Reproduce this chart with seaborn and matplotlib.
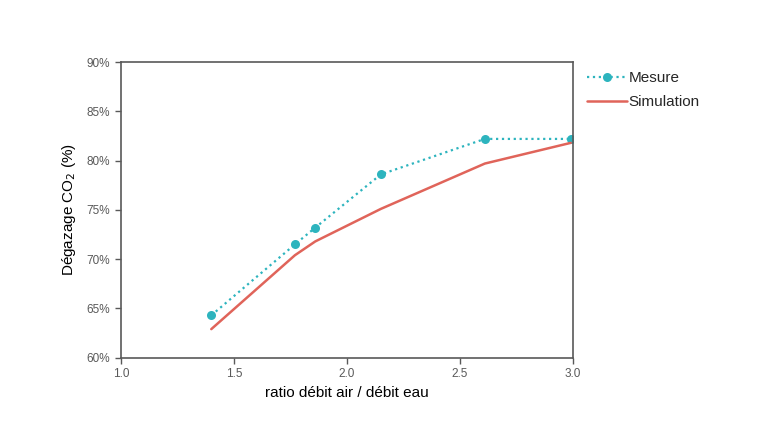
import matplotlib
matplotlib.use('Agg')
import matplotlib.pyplot as plt
import matplotlib.ticker as mticker
import pandas as pd
import seaborn as sns

ratio = [1.40, 1.77, 1.86, 2.15, 2.61, 2.99]
mesure = [64.3, 71.5, 73.2, 78.6, 82.2, 82.2]
simulation = [62.9, 70.4, 71.8, 75.1, 79.7, 81.8]

teal = "#2DB4BE"
rouge = "#E0645A"
gris = "#595959"

df = pd.DataFrame({'ratio': ratio, 'Mesure': mesure, 'Simulation': simulation})

sns.set_theme(style='white')
plt.rcParams['font.family'] = ['Liberation Sans', 'DejaVu Sans']

fig = plt.figure(figsize=(7.6, 4.4), dpi=100)
ax = fig.add_axes([0.159, 0.187, 0.595, 0.672])

sns.lineplot(data=df, x='ratio', y='Mesure', ax=ax, color=teal, linestyle=':', linewidth=1.6,
             marker='o', markersize=6.5, markeredgewidth=0, label='Mesure')
sns.lineplot(data=df, x='ratio', y='Simulation', ax=ax, color=rouge, linewidth=1.8, label='Simulation')

ax.set_xlim(1.0, 3.0)
ax.set_ylim(60, 90)
ax.xaxis.set_major_locator(mticker.MultipleLocator(0.5))
ax.xaxis.set_major_formatter(mticker.FormatStrFormatter('%.1f'))
ax.yaxis.set_major_locator(mticker.MultipleLocator(5))
ax.yaxis.set_major_formatter(mticker.FormatStrFormatter('%d%%'))

for s in ax.spines.values():
    s.set_color(gris)
    s.set_linewidth(1.2)
ax.tick_params(axis='both', direction='out', length=4, width=1, color=gris,
               labelsize=8.5, labelcolor=gris, bottom=True, left=True)

ax.set_xlabel('ratio débit air / débit eau', fontsize=11, color='black', labelpad=4)
ax.set_ylabel('Dégazage CO$_2$ (%)', fontsize=11, color='black', labelpad=6)

ax.legend(loc='upper left', bbox_to_anchor=(1.0, 1.015), frameon=False, fontsize=11,
          handlelength=2.6, handletextpad=0.15, labelspacing=0.65)

fig.savefig('out.png', dpi=100)
